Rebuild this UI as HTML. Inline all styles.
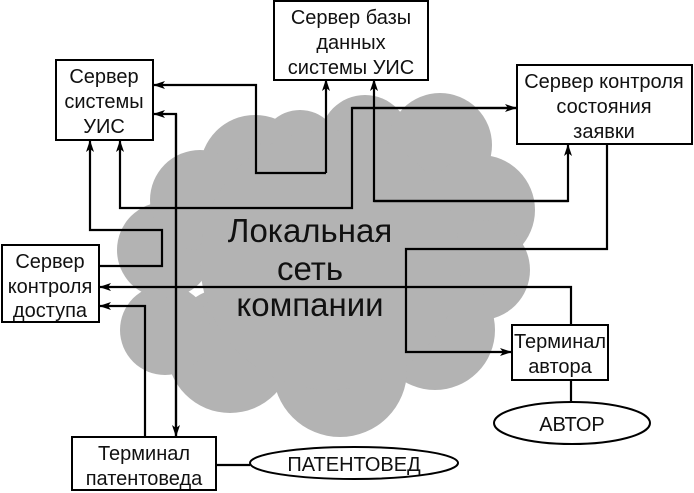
<!DOCTYPE html>
<html><head><meta charset="utf-8"><style>
body{margin:0;background:#fff;width:694px;height:493px;overflow:hidden}
svg{display:block}
text{font-family:"Liberation Sans",sans-serif;fill:#111}
</style></head><body>
<svg width="694" height="493" viewBox="0 0 694 493">
<defs><marker id="a" markerWidth="12" markerHeight="8" refX="11" refY="4" orient="auto" markerUnits="userSpaceOnUse"><path d="M0,0 L12,4 L0,8 L3,4z" fill="#000"/></marker></defs>
<g fill="#b3b3b3">
<circle cx="255" cy="170" r="55"/><circle cx="300" cy="150" r="40"/><circle cx="365" cy="140" r="45"/>
<circle cx="440" cy="145" r="52"/><circle cx="480" cy="210" r="55"/><circle cx="480" cy="270" r="50"/>
<circle cx="435" cy="330" r="60"/><circle cx="340" cy="370" r="67"/><circle cx="230" cy="350" r="63"/>
<circle cx="165" cy="330" r="45"/><circle cx="165" cy="250" r="48"/><circle cx="200" cy="200" r="50"/>
<circle cx="330" cy="260" r="130"/>
</g>
<g font-size="33" text-anchor="middle"><text x="310" y="242">Локальная</text><text x="310" y="280">сеть</text><text x="310" y="316">компании</text></g>
<g fill="none" stroke="#000" stroke-width="2.2">
<polyline points="326,173 326,80" marker-end="url(#a)"/>
<polyline points="326,173 256,173 256,85 154,85" marker-end="url(#a)"/>
<polyline points="176,436 176,114 154,114" marker-end="url(#a)"/>
<polyline points="176,114 176,436" marker-end="url(#a)"/>
<polyline points="517,108 352,108 352,208 120,208 120,141" marker-end="url(#a)"/>
<polyline points="352,108 516,108" marker-end="url(#a)"/>
<polyline points="99,266 162,266 162,230 90,230 90,141" marker-end="url(#a)"/>
<polyline points="568,201 374,201 374,80" marker-end="url(#a)"/>
<polyline points="374,201 568,201 568,145" marker-end="url(#a)"/>
<polyline points="607,145 607,249 406,249 406,352 511,352" marker-end="url(#a)"/>
<polyline points="571,325 571,287 100,287" marker-end="url(#a)"/>
<polyline points="145,436 145,306 100,306" marker-end="url(#a)"/>
<line x1="571" y1="380" x2="571" y2="401"/>
<line x1="216" y1="465" x2="250" y2="465"/>
</g>
<g fill="#fff" stroke="#000" stroke-width="2">
<rect x="56" y="60" width="97" height="80"/>
<rect x="274" y="1" width="154" height="79"/>
<rect x="517" y="65" width="175" height="79"/>
<rect x="2" y="245" width="97" height="77"/>
<rect x="512" y="325" width="96" height="55"/>
<rect x="72" y="437" width="144" height="53"/>
<ellipse cx="354" cy="463" rx="104" ry="16"/>
<ellipse cx="572" cy="423" rx="78" ry="21"/>
</g>
<g font-size="20" text-anchor="middle">
<text x="104" y="83">Сервер</text><text x="104" y="108">системы</text><text x="104" y="133">УИС</text>
<text x="351" y="24">Сервер базы</text><text x="351" y="49">данных</text><text x="351" y="74">системы УИС</text>
<text x="604" y="88">Сервер контроля</text><text x="604" y="113">состояния</text><text x="604" y="138">заявки</text>
<text x="50" y="268">Сервер</text><text x="50" y="293">контроля</text><text x="50" y="317">доступа</text>
<text x="560" y="348">Терминал</text><text x="560" y="373">автора</text>
<text x="144" y="460">Терминал</text><text x="144" y="485">патентоведа</text>
<text x="354" y="471">ПАТЕНТОВЕД</text>
<text x="572" y="431">АВТОР</text>
</g>
</svg>
</body></html>
